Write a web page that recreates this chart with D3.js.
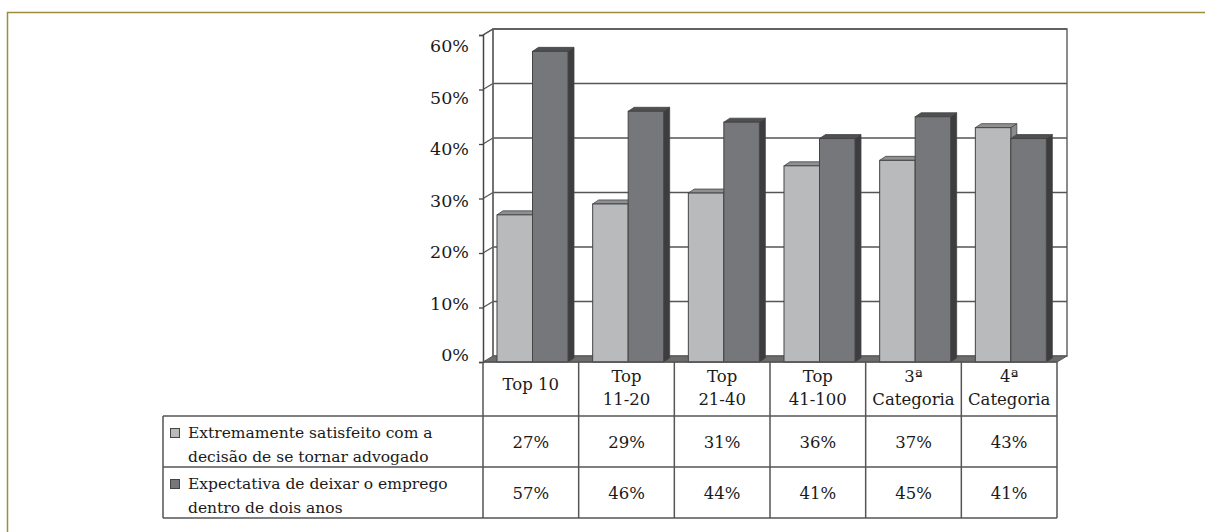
<!DOCTYPE html>
<html>
<head>
<meta charset="utf-8">
<script src="https://cdn.jsdelivr.net/npm/d3@7"></script>
<style>
  body { margin: 0; background: #fff; }
  text { font-family: "DejaVu Serif", serif; fill: #1a1a1a; }
</style>
</head>
<body>
<div id="chart"></div>
<script>
// dados do gráfico
var categorias = ["Top 10", "Top 11-20", "Top 21-40", "Top 41-100", "3ª Categoria", "4ª Categoria"];
var rotulos = [["Top 10"], ["Top", "11-20"], ["Top", "21-40"], ["Top", "41-100"], ["3ª", "Categoria"], ["4ª", "Categoria"]];
var series = ["Extremamente satisfeito com a decisão de se tornar advogado",
              "Expectativa de deixar o emprego dentro de dois anos"];
var legendaLinhas = [["Extremamente satisfeito com a", "decisão de se tornar advogado"],
                     ["Expectativa de deixar o emprego", "dentro de dois anos"]];
var satisfeito = [27, 29, 31, 36, 37, 43];
var expectativa = [57, 46, 44, 41, 45, 41];
var ticksY = [0, 10, 20, 30, 40, 50, 60];

var width = 1205, height = 532;
var cores = {
  face: ["#b9babc", "#76777b"],
  topo: ["#8f9092", "#4f5052"],
  lado: ["#8a8b8d", "#3d3d3f"]
};
var prof = { dx: 10, dy: -6 };     // profundidade das paredes
var profBarra = { dx: 6, dy: -4 }; // profundidade das barras

var svg = d3.select("#chart").append("svg")
  .attr("width", width)
  .attr("height", height);

// moldura externa
svg.append("path")
  .attr("d", "M7.5," + height + " L7.5,12.5 L" + width + ",12.5")
  .attr("fill", "none")
  .attr("stroke", "#9d8b3f")
  .attr("stroke-width", 1.5);

var escalaX = d3.scaleBand()
  .domain(categorias)
  .range([483, 1057]);

var escalaSerie = d3.scaleBand()
  .domain([0, 1])
  .range([14, 85]);

var escalaY = d3.scaleLinear()
  .domain([0, 60])
  .range([362, 35]);

// os rótulos do eixo no original não ficam alinhados com as marcas
var escalaRotulo = d3.scaleLinear()
  .domain([0, 60])
  .range([355, 46]);

var x0 = escalaX.range()[0], x1 = escalaX.range()[1];
var y0 = escalaY(0), yTop = escalaY(60);

// parede de fundo
svg.append("rect")
  .attr("x", x0 + prof.dx)
  .attr("y", yTop + prof.dy)
  .attr("width", x1 - x0)
  .attr("height", y0 - yTop)
  .attr("fill", "#fff")
  .attr("stroke", "#666")
  .attr("stroke-width", 1.5);

// linhas de grade (fundo e parede esquerda)
ticksY.forEach(function (t) {
  if (t === 0) return;
  var yy = escalaY(t);
  svg.append("line")
    .attr("x1", x0 + prof.dx).attr("x2", x1 + prof.dx)
    .attr("y1", yy + prof.dy).attr("y2", yy + prof.dy)
    .attr("stroke", "#555").attr("stroke-width", 1.3);
  svg.append("line")
    .attr("x1", x0).attr("x2", x0 + prof.dx)
    .attr("y1", yy).attr("y2", yy + prof.dy)
    .attr("stroke", "#555").attr("stroke-width", 1.3);
});

// parede esquerda (borda de trás)
svg.append("line")
  .attr("x1", x0 + prof.dx).attr("x2", x0 + prof.dx)
  .attr("y1", yTop + prof.dy).attr("y2", y0 + prof.dy)
  .attr("stroke", "#666").attr("stroke-width", 1.3);
svg.append("line")
  .attr("x1", x0).attr("x2", x0 + prof.dx)
  .attr("y1", yTop).attr("y2", yTop + prof.dy)
  .attr("stroke", "#555").attr("stroke-width", 1.3);

// piso
svg.append("path")
  .attr("d", "M" + x0 + "," + y0 + " L" + (x0 + prof.dx) + "," + (y0 + prof.dy) +
    " L" + (x1 + prof.dx) + "," + (y0 + prof.dy) + " L" + x1 + "," + y0 + " Z")
  .attr("fill", "#6c6c6e")
  .attr("stroke", "#555")
  .attr("stroke-width", 1);

// barras 3D
var dados = [satisfeito, expectativa];
categorias.forEach(function (c, i) {
  dados.forEach(function (serie, s) {
    var bx = escalaX(c) + escalaSerie(s);
    var bw = escalaSerie.bandwidth();
    var by = escalaY(serie[i]);
    var g = svg.append("g");
    // lado
    g.append("path")
      .attr("d", "M" + (bx + bw) + "," + by + " L" + (bx + bw + profBarra.dx) + "," + (by + profBarra.dy) +
        " L" + (bx + bw + profBarra.dx) + "," + (y0 + profBarra.dy) + " L" + (bx + bw) + "," + y0 + " Z")
      .attr("fill", cores.lado[s]).attr("stroke", "#444").attr("stroke-width", 0.8);
    // topo
    g.append("path")
      .attr("d", "M" + bx + "," + by + " L" + (bx + profBarra.dx) + "," + (by + profBarra.dy) +
        " L" + (bx + bw + profBarra.dx) + "," + (by + profBarra.dy) + " L" + (bx + bw) + "," + by + " Z")
      .attr("fill", cores.topo[s]).attr("stroke", "#444").attr("stroke-width", 0.8);
    // frente
    g.append("rect")
      .attr("x", bx).attr("y", by)
      .attr("width", bw).attr("height", y0 - by)
      .attr("fill", cores.face[s]).attr("stroke", "#444").attr("stroke-width", 1);
  });
});

// eixo Y
var ejeY = d3.axisLeft(escalaY)
  .tickValues(ticksY)
  .tickSize(4)
  .tickPadding(10)
  .tickFormat(function (d) { return d + "%"; });

var gEixo = svg.append("g")
  .attr("transform", "translate(" + x0 + ",0)")
  .call(ejeY);
gEixo.select(".domain").attr("stroke", "#444").attr("stroke-width", 1.5);
gEixo.selectAll(".tick line").attr("stroke", "#444").attr("stroke-width", 1.3);
gEixo.selectAll(".tick text")
  .style("font-family", "DejaVu Serif, serif")
  .style("font-size", "17.5px")
  .attr("fill", "#1a1a1a")
  .attr("y", function (d) { return escalaRotulo(d) - escalaY(d); })
  .attr("dy", "0.32em");

// tabela de dados
var tabela = svg.append("g");
var linhasY = [362, 416, 467, 518];
var tabEsq = 163;
var corTab = "#555";

// linhas horizontais
tabela.append("line")
  .attr("x1", x0).attr("x2", x1).attr("y1", linhasY[0]).attr("y2", linhasY[0])
  .attr("stroke", corTab).attr("stroke-width", 1.5);
[1, 2, 3].forEach(function (k) {
  tabela.append("line")
    .attr("x1", tabEsq).attr("x2", x1).attr("y1", linhasY[k]).attr("y2", linhasY[k])
    .attr("stroke", corTab).attr("stroke-width", 1.5);
});
// linhas verticais
tabela.append("line")
  .attr("x1", tabEsq).attr("x2", tabEsq).attr("y1", linhasY[1]).attr("y2", linhasY[3])
  .attr("stroke", corTab).attr("stroke-width", 1.5);
categorias.concat([null]).forEach(function (c) {
  var xx = c === null ? x1 : escalaX(c);
  tabela.append("line")
    .attr("x1", xx).attr("x2", xx).attr("y1", linhasY[0]).attr("y2", linhasY[3])
    .attr("stroke", corTab).attr("stroke-width", 1.5);
});

// rótulos das categorias
categorias.forEach(function (c, i) {
  var cx = escalaX(c) + escalaX.bandwidth() / 2;
  var linhas = rotulos[i];
  var t = tabela.append("text")
    .attr("text-anchor", "middle")
    .style("font-size", "16.5px");
  if (linhas.length === 1) {
    t.append("tspan").attr("x", cx).attr("y", 390).text(linhas[0]);
  } else {
    t.append("tspan").attr("x", cx).attr("y", 382).text(linhas[0]);
    t.append("tspan").attr("x", cx).attr("y", 405).text(linhas[1]);
  }
});

// legenda e valores
dados.forEach(function (serie, s) {
  var yTopo = linhasY[s + 1];
  tabela.append("rect")
    .attr("x", 170.5).attr("y", yTopo + 12.5)
    .attr("width", 9).attr("height", 9)
    .attr("fill", cores.face[s]).attr("stroke", "#444").attr("stroke-width", 1);
  var t = tabela.append("text").style("font-size", "15.5px");
  t.append("tspan").attr("x", 188).attr("y", yTopo + 22).text(legendaLinhas[s][0]);
  t.append("tspan").attr("x", 188).attr("y", yTopo + 46).text(legendaLinhas[s][1]);

  categorias.forEach(function (c, i) {
    tabela.append("text")
      .attr("x", escalaX(c) + escalaX.bandwidth() / 2)
      .attr("y", yTopo + 32)
      .attr("text-anchor", "middle")
      .style("font-size", "16.5px")
      .text(serie[i] + "%");
  });
});
</script>
</body>
</html>
